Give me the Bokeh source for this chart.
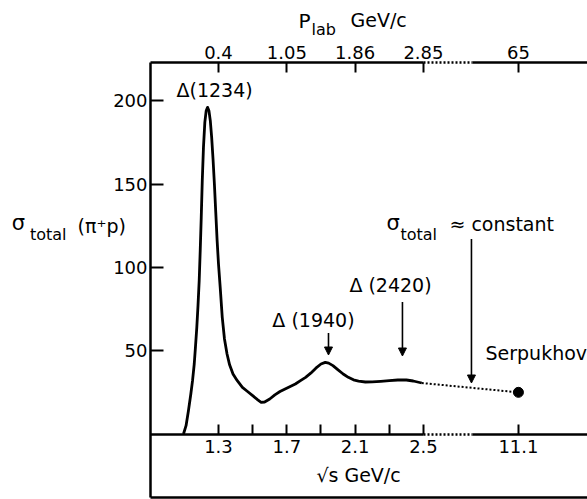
from bokeh.plotting import figure
from bokeh.models import Range1d, LinearAxis, FixedTicker, Label, Arrow, NormalHead
from bokeh.embed import file_html
from bokeh.resources import INLINE

# ---- data ----
sqrt_s = [1.095, 1.11, 1.124, 1.138, 1.148, 1.158, 1.165, 1.173, 1.180, 1.187,
          1.193, 1.199, 1.205, 1.212, 1.220, 1.228, 1.236, 1.244, 1.252, 1.260,
          1.268, 1.276, 1.284, 1.292, 1.300, 1.310, 1.322, 1.335, 1.350, 1.365,
          1.385, 1.41, 1.44, 1.47, 1.50, 1.53, 1.55, 1.57, 1.60, 1.63,
          1.66, 1.69, 1.72, 1.75, 1.78, 1.81, 1.84, 1.87, 1.90, 1.925,
          1.945, 1.97, 2.00, 2.03, 2.06, 2.09, 2.12, 2.16, 2.20, 2.25,
          2.30, 2.35, 2.40, 2.44, 2.49]
sigma_total = [0, 5, 14, 24, 32, 42, 52, 64, 77, 92,
               110, 130, 152, 172, 187, 194, 196, 194, 188, 178,
               165, 150, 133, 116, 102, 88, 70, 57, 48, 41.5,
               36, 32, 28, 25.5, 23, 20.5, 19, 19.2, 21, 23.5,
               25.5, 27, 28.5, 30, 32, 34, 36.5, 39.5, 42, 43,
               42.5, 41, 38.5, 36, 34, 32.5, 31.7, 31.2, 31.3, 31.6,
               32, 32.4, 32.4, 31.8, 30.6]

serpukhov_sqrt_s = 11.1
serpukhov_sigma = 25.0

y_ticks = [50, 100, 150, 200]
s_major_ticks = [1.3, 1.7, 2.1, 2.5, 11.1]
s_major_labels = ["1.3", "1.7", "2.1", "2.5", "11.1"]
s_minor_ticks = [1.5, 1.9, 2.3]
p_lab_at_sqrt_s = [1.3, 1.7, 2.1, 2.5, 11.1]
p_lab_labels = ["0.4", "1.05", "1.86", "2.85", "65"]

resonances = ["Δ(1234)", "Δ (1940)", "Δ (2420)"]

# broken axis: values above the break are drawn at a compressed position
BREAK_START, BREAK_END, FAR_POS = 2.5, 2.79, 3.056


def sx(v):
    return v if v <= BREAK_START else FAR_POS


# the frame covers the whole canvas; axes are placed at fixed locations
X0, X1 = 0.0237, 3.4604
Y0, Y1 = -39.3, 260.1
AX_LEFT = 0.902      # left axis position (sqrt s units)
AX_TOP = 222.9       # top axis position (sigma units)
AX_BOX = -38.1       # bottom of the label box

FONT = "DejaVu Sans"
FS_TICK = "18px"
FS = "19px"

p = figure(width=587, height=499, x_range=Range1d(X0, X1), y_range=Range1d(Y0, Y1),
           output_backend="svg", toolbar_location=None, x_axis_location=None,
           y_axis_location=None, min_border=0, outline_line_color=None,
           background_fill_color="white", border_fill_color="white")
p.grid.visible = False

# left axis
yax = LinearAxis(fixed_location=AX_LEFT, bounds=(AX_BOX, AX_TOP),
                 ticker=FixedTicker(ticks=y_ticks, minor_ticks=[]),
                 major_tick_in=13, major_tick_out=0, major_tick_line_width=2,
                 axis_line_width=2.5, major_label_standoff=3,
                 major_label_text_font=FONT, major_label_text_font_size=FS_TICK,
                 major_label_text_color="black")
p.add_layout(yax, "left")


def line_axis(side, loc, bounds, dash="solid"):
    ax = LinearAxis(fixed_location=loc, bounds=bounds,
                    ticker=FixedTicker(ticks=[], minor_ticks=[]),
                    major_tick_line_color=None, minor_tick_line_color=None,
                    major_label_text_alpha=0, axis_line_width=2.5,
                    axis_line_dash=dash)
    p.add_layout(ax, side)
    return ax


# bottom sqrt(s) axis at sigma = 0
sax = LinearAxis(fixed_location=0,
                 ticker=FixedTicker(ticks=[sx(v) for v in s_major_ticks], minor_ticks=s_minor_ticks),
                 major_label_overrides={sx(v): t for v, t in zip(s_major_ticks, s_major_labels)},
                 axis_line_color=None, major_tick_in=10, major_tick_out=0,
                 minor_tick_in=10, minor_tick_out=0, major_tick_line_width=2,
                 minor_tick_line_width=2, major_label_standoff=6,
                 major_label_text_font=FONT, major_label_text_font_size=FS_TICK,
                 major_label_text_color="black")
p.add_layout(sax, "below")
line_axis("below", 0, (AX_LEFT, BREAK_START))
line_axis("below", 0, (BREAK_START, BREAK_END), "2 2")
line_axis("below", 0, (BREAK_END, X1))
line_axis("below", AX_BOX, (AX_LEFT, X1))

# top p_lab axis
tax = LinearAxis(fixed_location=AX_TOP,
                 ticker=FixedTicker(ticks=[sx(v) for v in p_lab_at_sqrt_s], minor_ticks=[]),
                 major_label_overrides={sx(v): t for v, t in zip(p_lab_at_sqrt_s, p_lab_labels)},
                 axis_line_color=None, major_tick_in=10, major_tick_out=0,
                 major_tick_line_width=2, major_label_standoff=4,
                 major_label_text_font=FONT, major_label_text_font_size=FS_TICK,
                 major_label_text_color="black")
p.add_layout(tax, "above")
line_axis("above", AX_TOP, (AX_LEFT, BREAK_START))
line_axis("above", AX_TOP, (BREAK_START, BREAK_END), "2 2")
line_axis("above", AX_TOP, (BREAK_END, X1))

# curve
p.line(sqrt_s, sigma_total, line_width=2.8, line_color="black", line_join="round")
p.line([sqrt_s[-1], sx(serpukhov_sqrt_s)], [sigma_total[-1], serpukhov_sigma],
       line_width=2, line_color="black", line_dash="2 2")
p.scatter([sx(serpukhov_sqrt_s)], [serpukhov_sigma], size=10, color="black")


def lab(x, y, text, size=FS, align="left", baseline="middle"):
    p.add_layout(Label(x=x, y=y, text=text, text_font=FONT, text_font_size=size,
                       text_align=align, text_baseline=baseline, text_color="black"))


lab(1.277, 206.4, resonances[0], align="center")
lab(1.856, 68.4, resonances[1], align="center")
lab(2.307, 89.4, resonances[2], align="center")
lab(2.863, 48.6, "Serpukhov")

# sigma_total ~ constant
lab(2.283, 126.5, "σ", size="21px")
lab(2.365, 120.0, "total", size="16px")
lab(2.652, 126.0, "≈ constant")

# y-axis title
lab(0.090, 126.5, "σ", size="21px")
lab(0.196, 120.0, "total", size="16px")
lab(0.475, 125.0, "(π⁺p)")

# top title
lab(1.768, 248.0, "P", size="20px")
lab(1.845, 243.0, "lab", size="16px")
lab(2.073, 248.4, "GeV/c")

# bottom title
lab(2.120, -24.6, "√s GeV/c", align="center")

# arrows
for xa, y0, y1 in [(1.944, 60.6, 47.4), (2.377, 79.2, 46.8), (2.781, 117.0, 30.6)]:
    p.add_layout(Arrow(end=NormalHead(size=8, fill_color="black", line_color="black"),
                       x_start=xa, y_start=y0, x_end=xa, y_end=y1,
                       line_width=1.6, line_color="black"))

open("out.html", "w").write(file_html(p, INLINE))
